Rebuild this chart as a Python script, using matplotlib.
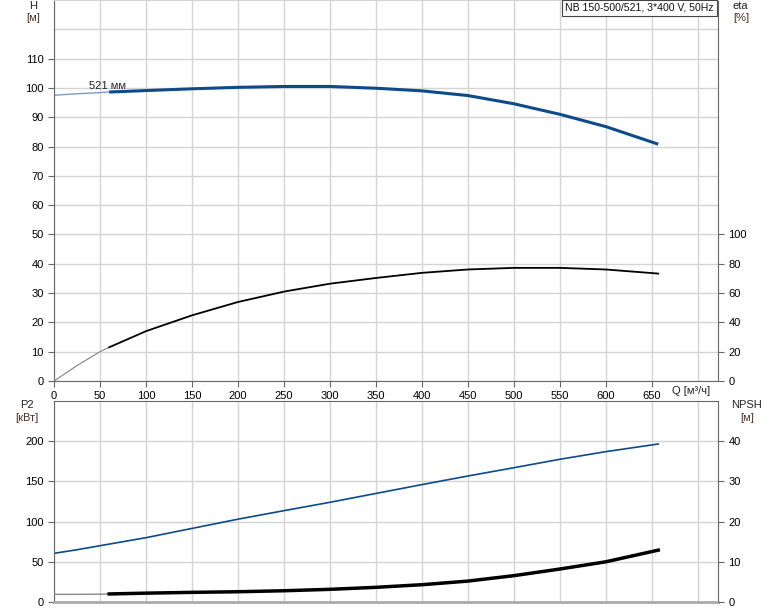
import matplotlib
matplotlib.use("Agg")
import matplotlib.pyplot as plt
from matplotlib.ticker import FixedLocator

plt.rcParams['font.family'] = ['Liberation Sans', 'DejaVu Sans']

# ---- data ----
q = [0, 25, 50, 60, 100, 150, 200, 250, 300, 350, 400, 450, 500, 550, 600, 657]
head = [97.5, 98.0, 98.4, 98.6, 99.1, 99.7, 100.2, 100.5, 100.5, 99.9, 99.0, 97.4, 94.6, 91.0, 86.8, 80.8]
eta = [0, 10.5, 20, 23, 34, 44.8, 53.9, 61, 66.4, 70.3, 73.8, 76.1, 77.2, 77.2, 76.1, 73.3]
p2 = [60.5, 65, 70, 72, 80, 91.5, 103, 113.6, 124, 135, 146, 156.7, 167, 177.5, 187, 196.5]
npsh = [1.9, 1.9, 1.95, 2.0, 2.2, 2.4, 2.55, 2.8, 3.15, 3.65, 4.3, 5.2, 6.55, 8.2, 10.0, 12.9]
thick_from = 3  # index where the working range (thick line) starts

q_ticks = [0, 50, 100, 150, 200, 250, 300, 350, 400, 450, 500, 550, 600, 650]
h_ticks = [0, 10, 20, 30, 40, 50, 60, 70, 80, 90, 100, 110]
eta_ticks = [0, 20, 40, 60, 80, 100]
p2_ticks = [0, 50, 100, 150, 200]
npsh_ticks = [0, 10, 20, 30, 40]
title = "NB 150-500/521, 3*400 V, 50Hz"
curve_label = "521 мм"

BLUE = "#0d4a8a"
GRID = "#d4d4d4"
SPINE = "#666666"
W, H = 774, 611

fig = plt.figure(figsize=(W / 100, H / 100), dpi=100)

def rect(l, t, r, b):
    return [l / W, 1 - b / H, (r - l) / W, (b - t) / H]

ax1 = fig.add_axes(rect(54, 0, 718, 381))
ax2 = fig.add_axes(rect(54, 401, 718, 602))

for ax in (ax1, ax2):
    ax.set_xlim(0, 722)
    ax.set_xticks(q_ticks)
    ax.xaxis.set_minor_locator(FixedLocator([700]))
    ax.grid(True, which='both', color=GRID, lw=1)
    ax.set_axisbelow(True)
    for s in ax.spines.values():
        s.set_color(SPINE)
    ax.tick_params(labelsize=8, colors=SPINE, labelcolor="black", length=4)
    ax.tick_params(which='minor', length=0)

# ---- top axes ----
ax1.set_ylim(0, 130)
ax1.set_yticks(h_ticks)
ax1.yaxis.set_minor_locator(FixedLocator([120]))
ax1.spines['top'].set_color(GRID)
ax1.plot(q[:thick_from + 1], head[:thick_from + 1], color="#7f9cc0", lw=1.0)
ax1.plot(q[thick_from:], head[thick_from:], color=BLUE, lw=2.2, solid_capstyle='butt')
ax1.text(38, 99.5, curve_label, fontsize=8, color="#222222")

ax1r = ax1.twinx()
ax1r.set_ylim(0, 260)
ax1r.set_yticks(eta_ticks)
ax1r.tick_params(labelsize=8, colors=SPINE, labelcolor="black", length=4)
for s in ax1r.spines.values():
    s.set_visible(False)
ax1r.plot(q[:thick_from + 1], eta[:thick_from + 1], color="#808080", lw=0.8)
ax1r.plot(q[thick_from:], eta[thick_from:], color="black", lw=1.3)

# ---- bottom axes ----
ax2.set_ylim(0, 250)
ax2.set_yticks(p2_ticks)
ax2.tick_params(axis='x', labelbottom=False, length=0)
ax2.spines['bottom'].set_color("#aaaaaa")
ax2.spines['bottom'].set_linewidth(2)
ax2.plot(q, p2, color=BLUE, lw=1.2)

ax2r = ax2.twinx()
ax2r.set_ylim(0, 50)
ax2r.set_yticks(npsh_ticks)
ax2r.tick_params(labelsize=8, colors=SPINE, labelcolor="black", length=4)
for s in ax2r.spines.values():
    s.set_visible(False)
ax2r.plot(q[:thick_from + 1], npsh[:thick_from + 1], color="#888888", lw=1.0)
ax2r.plot(q[thick_from:], npsh[thick_from:], color="black", lw=2.5)

# ---- labels ----
def ftext(x, y, s, ha="center", color="#222222"):
    fig.text(x / W, 1 - y / H, s, ha=ha, va="center", fontsize=8, color=color)

ftext(33, 6, "H")
ftext(33, 18, "[м]", color="#4a3020")
ftext(740, 6, "eta")
ftext(741, 18, "[%]", color="#4a3020")
ftext(27, 405, "P2")
ftext(27, 418, "[кВт]", color="#4a3020")
ftext(747, 405, "NPSH")
ftext(747, 418, "[м]", color="#4a3020")
ftext(691, 391, "Q [м³/ч]")

fig.text(714 / W, 1 - 8 / H, title, ha="right", va="center", fontsize=7.6,
         color="#111111",
         bbox=dict(boxstyle="square,pad=0.3", fc="white", ec="#444444", lw=0.8))

fig.savefig("out.png", dpi=100)
